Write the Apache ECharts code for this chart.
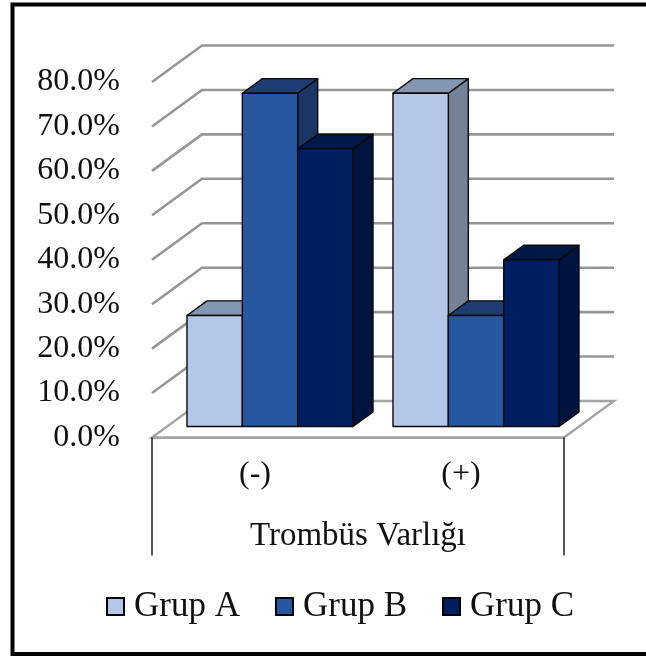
<!DOCTYPE html>
<html>
<head>
<meta charset="utf-8">
<script src="https://cdn.jsdelivr.net/npm/echarts@6/dist/echarts.min.js"></script>
<style>
  html, body { margin: 0; padding: 0; background: #fff; }
  #chart { width: 646px; height: 657px; }
</style>
</head>
<body>
<div id="chart"></div>
<script>
// Share of patients per group, split by thrombus presence
const categories = ['(-)', '(+)'];
const groupNames = ['Grup A', 'Grup B', 'Grup C'];
const grupA = [25, 75];
const grupB = [75, 25];
const grupC = [62.5, 37.5];
const yTicks = [0, 10, 20, 30, 40, 50, 60, 70, 80];
const axisTitle = 'Trombüs Varlığı';

const FONT = 'Liberation Serif, Times New Roman, serif';

// front / top / side shades of each group's box
const faceColors = [
  { front: '#b4c7e7', top: '#8497b0', side: '#738298' },
  { front: '#2757a0', top: '#1f3d73', side: '#1b3566' },
  { front: '#001f60', top: '#001848', side: '#00143f' }
];

// pseudo-3D: offset of the back wall relative to the front plane
const DEPTH = [50, -36.5];
const BAR_FRONT = 0.3;   // bars start 30% into the floor depth
const BAR_BACK = 0.7;    // ...and end at 70%
const BAR_SPAN = 0.806;  // part of a category taken up by its three bars

function barRenderer(k) {
  return function (params, api) {
    const cat = api.value(0);
    const val = api.value(1);
    const base = api.coord([cat, 0]);
    const head = api.coord([cat, val]);
    const catW = api.size([1, 0])[0];
    const bw = catW * BAR_SPAN / 3;
    const x0 = base[0] - catW * BAR_SPAN / 2 + k * bw + DEPTH[0] * BAR_FRONT;
    const x1 = x0 + bw;
    const yb = base[1] + DEPTH[1] * BAR_FRONT;
    const yt = head[1] + DEPTH[1] * BAR_FRONT;
    const dx = DEPTH[0] * (BAR_BACK - BAR_FRONT);
    const dy = DEPTH[1] * (BAR_BACK - BAR_FRONT);
    const c = faceColors[k];
    const edge = { stroke: '#0a0a0a', lineWidth: 1.4, lineJoin: 'round' };
    return {
      type: 'group',
      children: [
        { type: 'polygon', shape: { points: [[x1, yb], [x1 + dx, yb + dy], [x1 + dx, yt + dy], [x1, yt]] },
          style: Object.assign({ fill: c.side }, edge) },
        { type: 'polygon', shape: { points: [[x0, yt], [x1, yt], [x1 + dx, yt + dy], [x0 + dx, yt + dy]] },
          style: Object.assign({ fill: c.top }, edge) },
        { type: 'rect', shape: { x: x0, y: yt, width: bw, height: yb - yt },
          style: Object.assign({ fill: c.front }, edge) }
      ]
    };
  };
}

// walls: side diagonals + back-wall gridlines, floor at zero
function wallRenderer(params, api) {
  const v = api.value(1);
  const catW = api.size([1, 0])[0];
  const l = api.coord([0, v]);
  const r = api.coord([categories.length - 1, v]);
  const fl = [l[0] - catW / 2, l[1]];
  const fr = [r[0] + catW / 2, r[1]];
  const bl = [fl[0] + DEPTH[0], fl[1] + DEPTH[1]];
  const br = [fr[0] + DEPTH[0], fr[1] + DEPTH[1]];
  const grey = { stroke: '#969696', lineWidth: 2.6, fill: null };
  const children = [];
  if (v === 0) {
    const drop = 118;
    children.push(
      { type: 'polygon', shape: { points: [fl, bl, br, fr] },
        style: { fill: '#fff', stroke: '#a4a4a4', lineWidth: 2.4 } },
      { type: 'line', shape: { x1: fl[0], y1: fl[1], x2: fl[0], y2: fl[1] + drop },
        style: { stroke: '#2a2a2a', lineWidth: 1.6 } },
      { type: 'line', shape: { x1: fr[0], y1: fr[1], x2: fr[0], y2: fr[1] + drop },
        style: { stroke: '#2a2a2a', lineWidth: 1.6 } }
    );
  } else {
    children.push({ type: 'polyline', shape: { points: [fl, bl, br] }, style: grey });
  }
  return { type: 'group', children: children };
}

const seriesData = [grupA, grupB, grupC];

const chart = echarts.init(document.getElementById('chart'), null, { renderer: 'canvas' });
chart.setOption({
  backgroundColor: '#fff',
  animation: false,
  grid: { left: 152, right: 82, top: 82, bottom: 219.5 },
  xAxis: {
    type: 'category',
    data: categories,
    axisLine: { show: true, lineStyle: { color: '#a0a0a0', width: 2.6 } },
    axisTick: { show: false },
    axisLabel: { margin: 21, fontFamily: FONT, fontSize: 32, color: '#111' },
    name: axisTitle,
    nameLocation: 'middle',
    nameGap: 82,
    nameTextStyle: { fontFamily: FONT, fontSize: 33, color: '#111' },
    splitLine: { show: false }
  },
  yAxis: {
    type: 'value',
    min: 0,
    max: 80,
    interval: 10,
    axisLine: { show: false },
    axisTick: { show: false },
    splitLine: { show: false },
    axisLabel: {
      margin: 32,
      fontFamily: FONT, fontSize: 32, color: '#111',
      formatter: v => v.toFixed(1) + '%'
    }
  },
  legend: {
    data: groupNames,
    left: 106,
    top: 589,
    padding: 0,
    icon: 'rect',
    itemWidth: 17,
    itemHeight: 17,
    itemGap: 35,
    itemStyle: { borderColor: '#000', borderWidth: 2 },
    textStyle: { fontFamily: FONT, fontSize: 35, color: '#111', padding: [0, 0, 0, 5] }
  },
  graphic: [{
    type: 'rect',
    shape: { x: 12.5, y: 4.5, width: 660, height: 649.5 },
    style: { fill: null, stroke: '#000', lineWidth: 4 },
    silent: true,
    z: 10
  }],
  series: [
    {
      type: 'custom',
      name: 'walls',
      silent: true,
      renderItem: wallRenderer,
      data: yTicks.map(v => [0, v]),
      encode: { x: 0, y: 1 },
      z: 1
    }
  ].concat(groupNames.map((name, k) => ({
    type: 'custom',
    name: name,
    renderItem: barRenderer(k),
    itemStyle: { color: faceColors[k].front },
    data: seriesData[k].map((v, i) => [i, v]),
    encode: { x: 0, y: 1 },
    z: 2
  })))
});
</script>
</body>
</html>
